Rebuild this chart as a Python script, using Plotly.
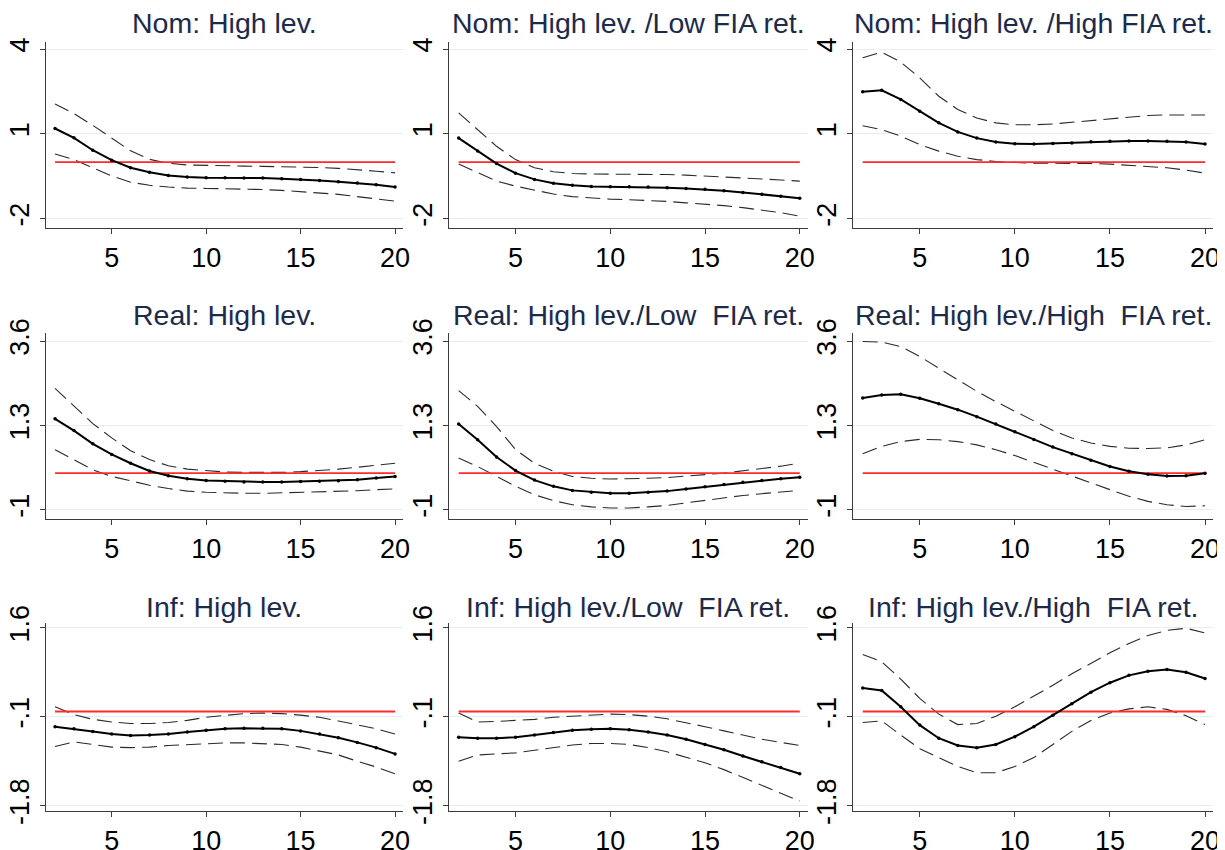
import plotly.graph_objects as go

horizons = list(range(2, 21))
ref_value = 0

titles = [
    "Nom: High lev.", "Nom: High lev. /Low FIA ret.", "Nom: High lev. /High FIA ret.",
    "Real: High lev.", "Real: High lev./Low\u00a0 FIA ret.", "Real: High lev./High\u00a0 FIA ret.",
    "Inf: High lev.", "Inf: High lev./Low\u00a0 FIA ret.", "Inf: High lev./High\u00a0 FIA ret.",
]

# Row 1: nominal
nom_high_mid = [1.19, 0.86, 0.42, 0.07, -0.20, -0.36, -0.47, -0.53, -0.55, -0.55, -0.56, -0.56, -0.59, -0.61, -0.65, -0.69, -0.74, -0.80, -0.88]
nom_high_up = [2.06, 1.72, 1.30, 0.85, 0.40, 0.10, -0.04, -0.10, -0.12, -0.13, -0.14, -0.15, -0.16, -0.17, -0.19, -0.22, -0.26, -0.32, -0.38]
nom_high_lo = [0.29, 0.09, -0.20, -0.49, -0.71, -0.82, -0.88, -0.92, -0.93, -0.94, -0.95, -0.97, -1.00, -1.04, -1.08, -1.14, -1.22, -1.29, -1.38]

nom_low_mid = [0.85, 0.39, -0.05, -0.39, -0.61, -0.75, -0.82, -0.86, -0.87, -0.87, -0.88, -0.91, -0.93, -0.96, -1.01, -1.07, -1.14, -1.21, -1.28]
nom_low_up = [1.74, 1.15, 0.56, 0.09, -0.20, -0.34, -0.40, -0.42, -0.42, -0.42, -0.42, -0.44, -0.46, -0.49, -0.52, -0.56, -0.60, -0.63, -0.67]
nom_low_lo = [-0.07, -0.38, -0.67, -0.85, -1.00, -1.13, -1.22, -1.27, -1.31, -1.33, -1.35, -1.39, -1.44, -1.48, -1.54, -1.61, -1.69, -1.79, -1.91]

nom_hfia_mid = [2.49, 2.54, 2.22, 1.80, 1.39, 1.07, 0.85, 0.71, 0.65, 0.64, 0.66, 0.68, 0.72, 0.74, 0.75, 0.75, 0.74, 0.71, 0.64]
nom_hfia_up = [3.69, 3.89, 3.54, 2.98, 2.33, 1.86, 1.56, 1.39, 1.32, 1.32, 1.35, 1.41, 1.48, 1.54, 1.60, 1.65, 1.67, 1.68, 1.67]
nom_hfia_lo = [1.29, 1.15, 0.92, 0.62, 0.39, 0.21, 0.09, 0.02, -0.01, -0.04, -0.04, -0.04, -0.05, -0.07, -0.11, -0.14, -0.20, -0.28, -0.39]

# Row 2: real
real_high_mid = [1.48, 1.16, 0.80, 0.51, 0.27, 0.06, -0.07, -0.15, -0.20, -0.22, -0.24, -0.24, -0.24, -0.23, -0.22, -0.21, -0.18, -0.13, -0.09]
real_high_up = [2.31, 1.82, 1.35, 0.96, 0.61, 0.37, 0.20, 0.11, 0.06, 0.03, 0.02, 0.01, 0.02, 0.04, 0.07, 0.11, 0.16, 0.21, 0.27]
real_high_lo = [0.64, 0.37, 0.09, -0.09, -0.22, -0.33, -0.42, -0.49, -0.52, -0.54, -0.55, -0.55, -0.54, -0.53, -0.51, -0.49, -0.48, -0.45, -0.43]

real_low_mid = [1.34, 0.91, 0.44, 0.07, -0.19, -0.36, -0.47, -0.52, -0.55, -0.55, -0.52, -0.49, -0.43, -0.37, -0.31, -0.25, -0.20, -0.15, -0.11]
real_low_up = [2.25, 1.82, 1.27, 0.64, 0.27, 0.05, -0.09, -0.14, -0.16, -0.16, -0.14, -0.12, -0.09, -0.04, 0.00, 0.06, 0.12, 0.19, 0.27]
real_low_lo = [0.41, 0.18, -0.09, -0.36, -0.59, -0.75, -0.86, -0.92, -0.95, -0.95, -0.92, -0.88, -0.81, -0.74, -0.68, -0.61, -0.56, -0.51, -0.47]

real_hfia_mid = [2.05, 2.13, 2.15, 2.04, 1.89, 1.73, 1.54, 1.34, 1.13, 0.92, 0.71, 0.53, 0.35, 0.18, 0.05, -0.03, -0.08, -0.07, 0.00]
real_hfia_up = [3.59, 3.57, 3.45, 3.18, 2.86, 2.54, 2.23, 1.95, 1.68, 1.41, 1.16, 0.96, 0.82, 0.73, 0.68, 0.67, 0.69, 0.77, 0.91]
real_hfia_lo = [0.53, 0.73, 0.86, 0.92, 0.91, 0.86, 0.77, 0.64, 0.48, 0.29, 0.11, -0.09, -0.27, -0.45, -0.63, -0.77, -0.86, -0.91, -0.89]

# Row 3: inflation
inf_high_mid = [-0.29, -0.33, -0.38, -0.43, -0.46, -0.45, -0.43, -0.39, -0.36, -0.33, -0.32, -0.32, -0.33, -0.37, -0.43, -0.50, -0.59, -0.69, -0.81]
inf_high_up = [0.09, -0.06, -0.15, -0.20, -0.23, -0.23, -0.21, -0.17, -0.11, -0.07, -0.04, -0.03, -0.04, -0.07, -0.11, -0.18, -0.26, -0.33, -0.43]
inf_high_lo = [-0.67, -0.58, -0.63, -0.68, -0.69, -0.68, -0.65, -0.63, -0.61, -0.60, -0.60, -0.61, -0.63, -0.68, -0.75, -0.83, -0.95, -1.06, -1.19]

inf_low_mid = [-0.49, -0.51, -0.51, -0.49, -0.45, -0.40, -0.36, -0.34, -0.33, -0.35, -0.39, -0.45, -0.53, -0.63, -0.73, -0.85, -0.96, -1.07, -1.19]
inf_low_up = [-0.03, -0.20, -0.19, -0.17, -0.15, -0.11, -0.09, -0.06, -0.05, -0.06, -0.09, -0.14, -0.21, -0.29, -0.37, -0.45, -0.53, -0.59, -0.65]
inf_low_lo = [-0.95, -0.83, -0.81, -0.79, -0.74, -0.69, -0.64, -0.61, -0.61, -0.63, -0.69, -0.77, -0.87, -0.98, -1.11, -1.26, -1.41, -1.55, -1.71]

inf_hfia_mid = [0.45, 0.40, 0.09, -0.26, -0.51, -0.65, -0.69, -0.63, -0.48, -0.29, -0.07, 0.15, 0.37, 0.55, 0.69, 0.77, 0.80, 0.75, 0.63]
inf_hfia_up = [1.09, 0.95, 0.62, 0.25, -0.05, -0.25, -0.23, -0.09, 0.09, 0.29, 0.50, 0.72, 0.92, 1.12, 1.30, 1.45, 1.55, 1.59, 1.50]
inf_hfia_lo = [-0.21, -0.18, -0.45, -0.71, -0.88, -1.05, -1.17, -1.17, -1.05, -0.88, -0.63, -0.38, -0.17, -0.03, 0.05, 0.09, 0.04, -0.08, -0.25]

panels = [
    (nom_high_mid, nom_high_up, nom_high_lo),
    (nom_low_mid, nom_low_up, nom_low_lo),
    (nom_hfia_mid, nom_hfia_up, nom_hfia_lo),
    (real_high_mid, real_high_up, real_high_lo),
    (real_low_mid, real_low_up, real_low_lo),
    (real_hfia_mid, real_hfia_up, real_hfia_lo),
    (inf_high_mid, inf_high_up, inf_high_lo),
    (inf_low_mid, inf_low_up, inf_low_lo),
    (inf_hfia_mid, inf_hfia_up, inf_hfia_lo),
]

x_ticks = [5, 10, 15, 20]
row_y_ticks = [[-2, 1, 4], [-1, 1.3, 3.6], [-1.8, -0.1, 1.6]]
row_y_ticktext = [["-2", "1", "4"], ["-1", "1.3", "3.6"], ["-1.8", "-.1", "1.6"]]
row_y_ranges = [[-2.33, 4.25], [-1.25, 3.82], [-1.9, 1.69]]
x_range = [1.5, 20.42]

# The page body adds an 8px offset, so the figure is laid out in page coordinates minus 8.
OFF = 8
W, H = 1225 - OFF, 850 - OFF
col_px = [(45.6, 403), (449.2, 807.7), (853.2, 1213)]
row_px = [(42, 228), (333, 519), (623, 811)]
title_y_px = [23, 315, 607]

FONT = "Liberation Sans, Arial, sans-serif"
TITLE_COLOR = "#1c2b4c"
GRID = "#e5eef0"
AXIS = "#3c3c3c"


def fx(px):
    return (px - OFF) / W


def fy(px):
    return 1 - (px - OFF) / H


fig = go.Figure()
annotations = []
for i, (mid, up, lo) in enumerate(panels):
    r, c = divmod(i, 3)
    n = i + 1
    xa = "x" if n == 1 else f"x{n}"
    ya = "y" if n == 1 else f"y{n}"
    for band in (up, lo):
        fig.add_trace(go.Scatter(x=horizons, y=band, mode="lines", xaxis=xa, yaxis=ya,
                                 line=dict(color="#2a2a2a", width=1.1, dash="15px,7px"),
                                 showlegend=False, hoverinfo="skip"))
    fig.add_trace(go.Scatter(x=[horizons[0], horizons[-1]], y=[ref_value, ref_value], mode="lines",
                             xaxis=xa, yaxis=ya, line=dict(color="#ff2a2a", width=1.8),
                             showlegend=False, hoverinfo="skip"))
    fig.add_trace(go.Scatter(x=horizons, y=mid, mode="lines+markers", xaxis=xa, yaxis=ya,
                             line=dict(color="black", width=2), marker=dict(color="black", size=3.5),
                             showlegend=False))
    x0, x1 = col_px[c]
    y0, y1 = row_px[r]
    xkey = "xaxis" if n == 1 else f"xaxis{n}"
    ykey = "yaxis" if n == 1 else f"yaxis{n}"
    fig.layout[xkey] = dict(
        domain=[fx(x0), fx(x1)], range=x_range, anchor=ya, automargin=False,
        tickvals=x_ticks, ticks="outside", ticklen=5, tickcolor=AXIS, tickwidth=1,
        showline=True, linecolor=AXIS, linewidth=1.2, showgrid=False, zeroline=False,
        tickfont=dict(family=FONT, size=27, color="black"),
    )
    fig.layout[ykey] = dict(
        domain=[fy(y1), fy(y0)], range=row_y_ranges[r], anchor=xa, automargin=False,
        tickvals=row_y_ticks[r], ticktext=row_y_ticktext[r], tickangle=-90,
        ticks="outside", ticklen=5, tickcolor=AXIS, tickwidth=1,
        showline=True, linecolor=AXIS, linewidth=1.2, showgrid=True, gridcolor=GRID, gridwidth=1,
        zeroline=False, tickfont=dict(family=FONT, size=27, color="black"),
    )
    annotations.append(dict(text=titles[i], x=fx((x0 + x1) / 2), y=fy(title_y_px[r]),
                            xref="paper", yref="paper", xanchor="center", yanchor="middle",
                            showarrow=False, font=dict(family=FONT, size=28.5, color=TITLE_COLOR)))

fig.update_layout(width=W, height=H, margin=dict(l=0, r=0, t=0, b=0, autoexpand=False),
                  paper_bgcolor="white", plot_bgcolor="white", annotations=annotations)
fig.write_html("out.html")
